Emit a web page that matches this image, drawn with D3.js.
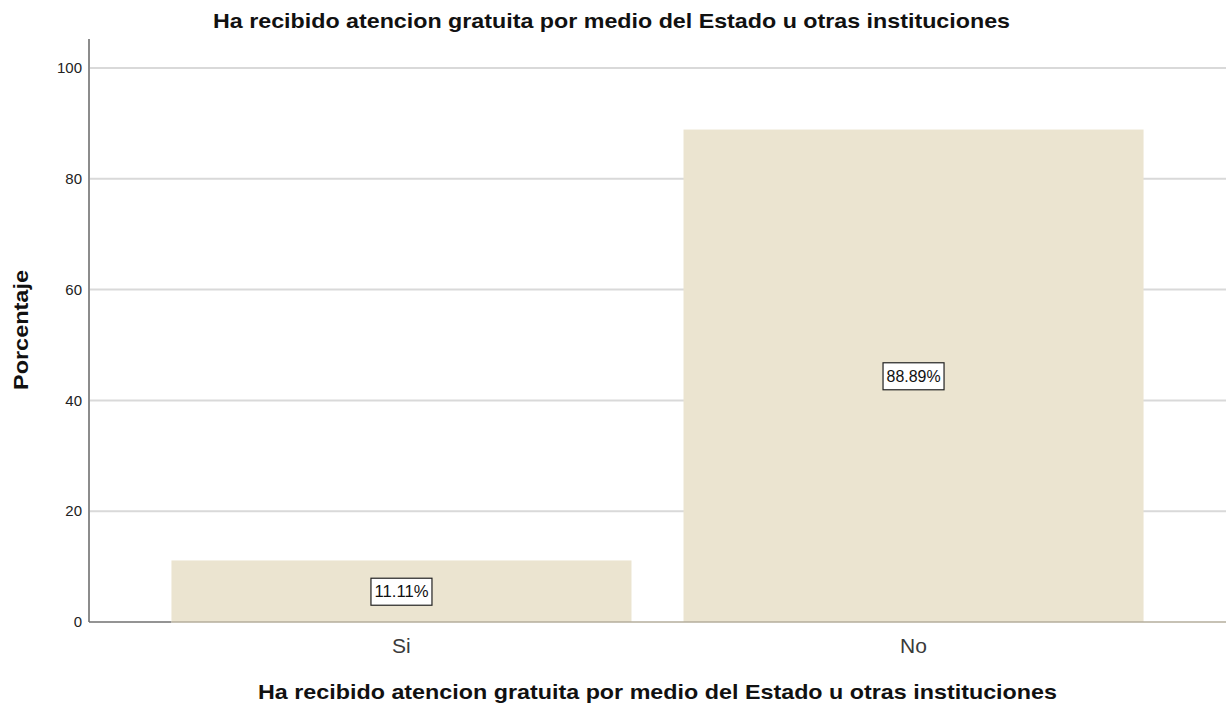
<!DOCTYPE html>
<head>
    <meta charset="utf-8">
    <script src="https://d3js.org/d3.v7.min.js"></script>
    <style>
        body {
            margin: 0;
            font-family: Arial, "Liberation Sans", sans-serif;
            background: #fff;
        }
        .grid line {
            stroke: #d9d9d9;
            stroke-width: 2px;
        }
        .tick-label {
            font-size: 15px;
            fill: #222;
        }
        .cat-label {
            font-size: 21px;
            fill: #3a3a3a;
        }
        .title {
            font-size: 21px;
            font-weight: bold;
            fill: #111;
        }
    </style>
</head>

<body>
<div id="vis"></div>

<script>
    var categories = ["Si", "No"];
    var percents = [11.11, 88.89];
    var labels = ["11.11%", "88.89%"];
    var yTicks = [0, 20, 40, 60, 80, 100];

    var chartTitle = "Ha recibido atencion gratuita por medio del Estado u otras instituciones";
    var xTitle = "Ha recibido atencion gratuita por medio del Estado u otras instituciones";
    var yTitle = "Porcentaje";

    var width = 1228, height = 709;
    var plotLeft = 89, plotRight = 1226, plotTop = 39, plotBottom = 622;

    var svg = d3.select("#vis")
        .append("svg")
        .attr("width", width)
        .attr("height", height);

    var x = d3.scaleBand()
        .domain(categories)
        .range([plotLeft, plotRight])
        .paddingInner(0.1016)
        .paddingOuter(0.161);

    var y = d3.scaleLinear()
        .domain([0, 100])
        .range([plotBottom, 68]);

    // gridlines
    svg.append("g")
        .attr("class", "grid")
        .selectAll("line")
        .data(yTicks.filter(function(d) { return d > 0; }))
        .enter()
        .append("line")
        .attr("x1", plotLeft)
        .attr("x2", plotRight)
        .attr("y1", function(d) { return y(d); })
        .attr("y2", function(d) { return y(d); });

    // bars
    svg.selectAll(".bar")
        .data(percents)
        .enter()
        .append("rect")
        .attr("class", "bar")
        .attr("x", function(d, i) { return x(categories[i]); })
        .attr("width", x.bandwidth())
        .attr("y", function(d) { return y(d); })
        .attr("height", function(d) { return y(0) - y(d); })
        .attr("fill", "#ebe4d0");

    // axes lines
    svg.append("line")
        .attr("x1", plotLeft).attr("x2", plotLeft)
        .attr("y1", plotTop).attr("y2", plotBottom)
        .attr("stroke", "#8c8c8c")
        .attr("stroke-width", 2);

    svg.append("line")
        .attr("x1", plotLeft).attr("x2", x("Si"))
        .attr("y1", plotBottom).attr("y2", plotBottom)
        .attr("stroke", "#707070")
        .attr("stroke-width", 1.5);

    svg.append("line")
        .attr("x1", x("Si")).attr("x2", plotRight)
        .attr("y1", plotBottom).attr("y2", plotBottom)
        .attr("stroke", "#b5ae9c")
        .attr("stroke-width", 1.5);

    // y tick labels
    svg.selectAll(".tick-label")
        .data(yTicks)
        .enter()
        .append("text")
        .attr("class", "tick-label")
        .attr("x", plotLeft - 7)
        .attr("y", function(d) { return y(d); })
        .attr("dy", "0.35em")
        .attr("text-anchor", "end")
        .text(function(d) { return d; });

    // category labels
    svg.selectAll(".cat-label")
        .data(categories)
        .enter()
        .append("text")
        .attr("class", "cat-label")
        .attr("x", function(d) { return x(d) + x.bandwidth() / 2; })
        .attr("y", 653)
        .attr("text-anchor", "middle")
        .text(function(d) { return d; });

    // value labels in boxes
    var lab = svg.selectAll(".val")
        .data(percents)
        .enter()
        .append("g")
        .attr("class", "val")
        .attr("transform", function(d, i) {
            return "translate(" + (x(categories[i]) + x.bandwidth() / 2) + "," + y(d / 2) + ")";
        });

    lab.append("rect")
        .attr("x", -30.5)
        .attr("y", -13)
        .attr("width", 61)
        .attr("height", 27)
        .attr("fill", "#fff")
        .attr("stroke", "#222")
        .attr("stroke-width", 1.2);

    lab.append("text")
        .attr("text-anchor", "middle")
        .attr("y", 6)
        .attr("textLength", 54)
        .attr("lengthAdjust", "spacingAndGlyphs")
        .style("font-size", "16px")
        .style("fill", "#111")
        .text(function(d, i) { return labels[i]; });

    // titles
    svg.append("text")
        .attr("class", "title")
        .attr("x", 611.5)
        .attr("y", 28)
        .attr("text-anchor", "middle")
        .attr("textLength", 797)
        .attr("lengthAdjust", "spacingAndGlyphs")
        .text(chartTitle);

    svg.append("text")
        .attr("class", "title")
        .attr("x", 657.5)
        .attr("y", 699)
        .attr("text-anchor", "middle")
        .attr("textLength", 799)
        .attr("lengthAdjust", "spacingAndGlyphs")
        .text(xTitle);

    svg.append("text")
        .attr("class", "title")
        .attr("transform", "translate(28,330) rotate(-90)")
        .attr("text-anchor", "middle")
        .attr("textLength", 120)
        .attr("lengthAdjust", "spacingAndGlyphs")
        .text(yTitle);
</script>
</body>
